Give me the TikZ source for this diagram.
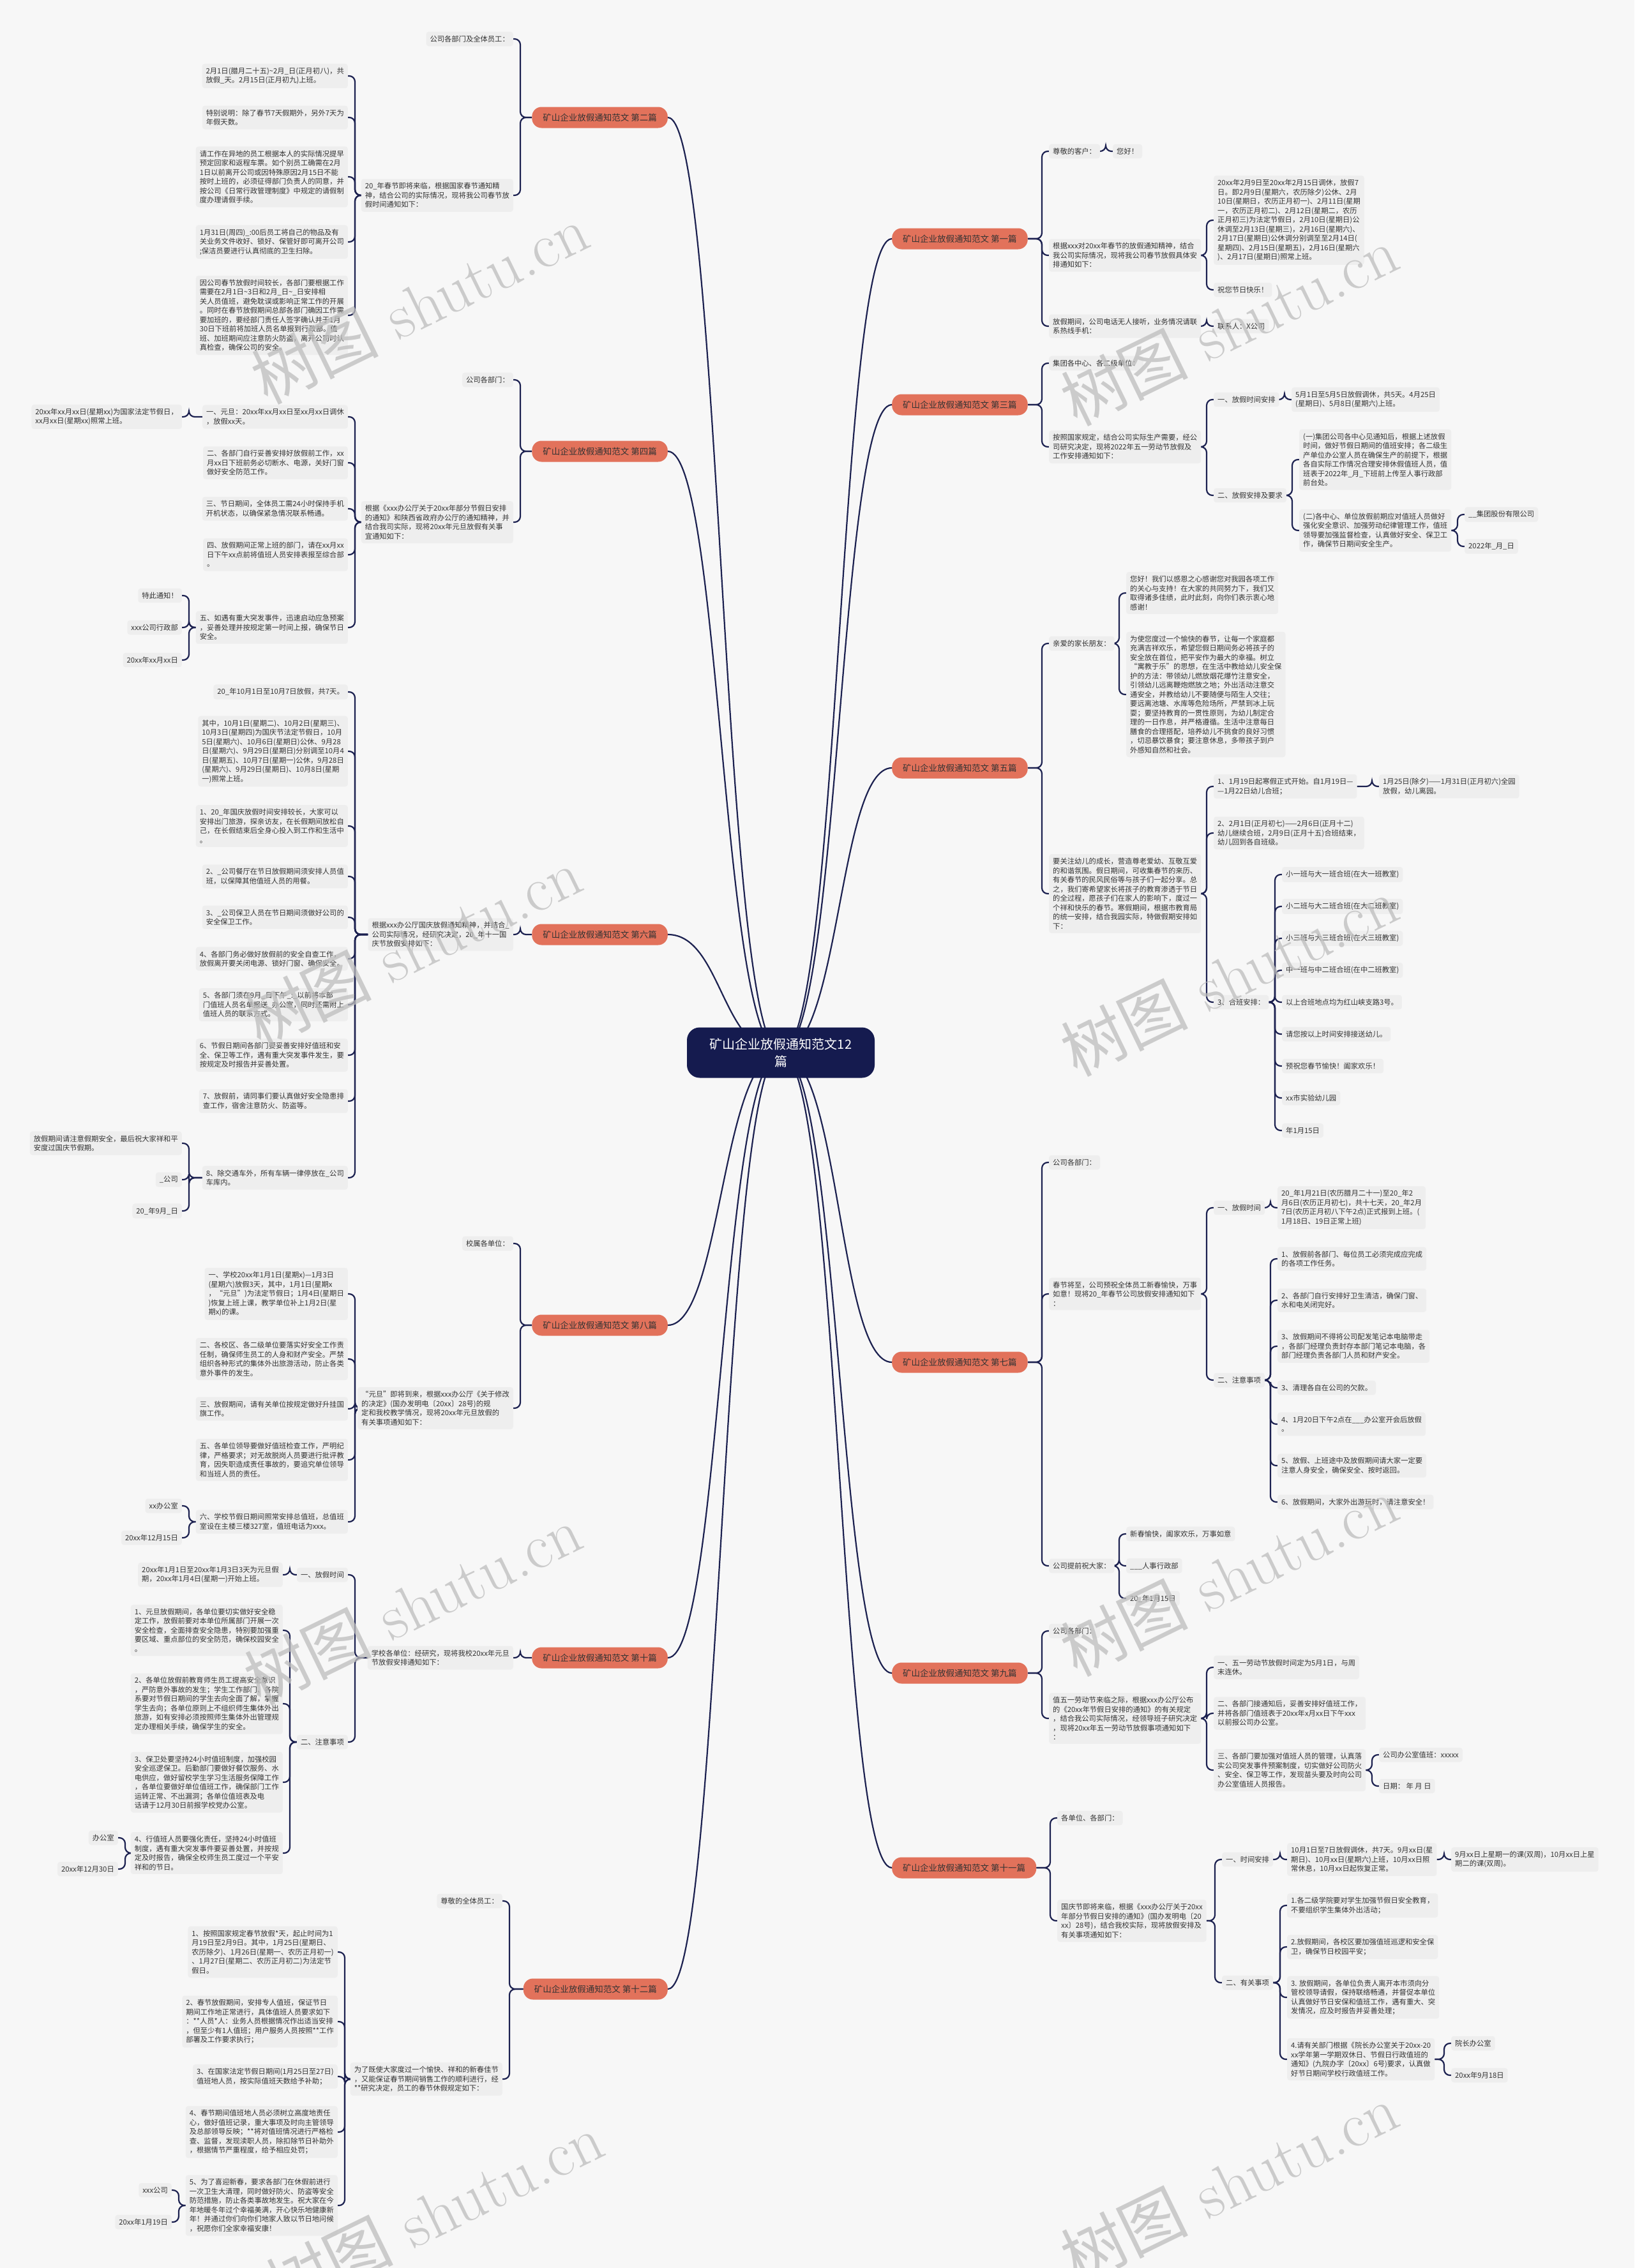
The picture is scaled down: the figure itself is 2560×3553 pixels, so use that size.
\documentclass[tikz,border=0pt]{standalone}
\usepackage{fontspec}
\newfontfamily\cjk{Noto Sans CJK SC}
\usetikzlibrary{calc}
\definecolor{bgc}{HTML}{F7F7F7}
\definecolor{boxc}{HTML}{EEEEEE}
\definecolor{brc}{HTML}{E2725B}
\definecolor{rootc}{HTML}{151B4F}
\definecolor{linec}{HTML}{1C2150}
\definecolor{txtc}{HTML}{333333}
\definecolor{wmc}{HTML}{BDBDBD}
\pgfdeclarelayer{back}\pgfdeclarelayer{lines}\pgfdeclarelayer{front}
\pgfsetlayers{back,lines,main,front}
\tikzset{
 tb/.style={fill=boxc, rounded corners=4pt, inner xsep=6pt, inner ysep=6pt, align=left, text=txtc, font=\cjk\fontsize{11.3pt}{14.5pt}\selectfont},
 bl/.style={tb, anchor=east},
 br/.style={tb, anchor=west},
 brn/.style={fill=brc, rounded corners=15pt, minimum height=33pt, inner xsep=17pt, text=txtc, font=\cjk\fontsize{13.5pt}{16pt}\selectfont},
 branchl/.style={brn, anchor=east},
 branchr/.style={brn, anchor=west},
 rootn/.style={fill=rootc, text=white, rounded corners=20pt, minimum width=294pt, minimum height=79pt, align=center, font=\cjk\fontsize{20pt}{27pt}\selectfont},
 ln/.style={draw=linec, line width=2.2pt, rounded corners=9pt},
 cv/.style={draw=linec, line width=2.2pt},
 wm/.style={text=wmc, opacity=0.75, rotate=26, font=\fontsize{100pt}{100pt}\selectfont}
}
\newcommand\cnL[2]{\draw[ln] (#1.west) -| ([xshift=11pt]#2.east) -- (#2.east);}
\newcommand\cnR[2]{\draw[ln] (#1.east) -| ([xshift=-11pt]#2.west) -- (#2.west);}
\newcommand\rcL[1]{\draw[cv] (root.center) .. controls (1130,1649) and ($(#1.east)+(84,0)$) .. (#1.east);}
\newcommand\rcR[1]{\draw[cv] (root.center) .. controls (1316,1649) and ($(#1.west)+(-84,0)$) .. (#1.west);}
\begin{document}
\begin{tikzpicture}[x=1pt,y=-1pt]
\begin{pgfonlayer}{back}
\fill[bgc] (0,0) rectangle (2560,3553);
\end{pgfonlayer}
\useasboundingbox (0,0) rectangle (2560,3553);

\node[rootn] (root) at (1223,1649) {矿山企业放假通知范文12\\篇};

% ---------------- LEFT: 第二篇
\node[branchl] (L2) at (1046,184) {矿山企业放假通知范文 第二篇};
\node[bl] (L2a) at (804,61) {公司各部门及全体员工：};
\node[bl] (L2b) at (804,306) {20\_年春节即将来临，根据国家春节通知精\\神，结合公司的实际情况，现将我公司春节放\\假时间通知如下：};
\node[bl] (L2b1) at (545,119) {2月1日(腊月二十五)\textasciitilde 2月\_日(正月初八)，共\\放假\_天。2月15日(正月初九)上班。};
\node[bl] (L2b2) at (545,184) {特别说明：除了春节7天假期外，另外7天为\\年假天数。};
\node[bl] (L2b3) at (545,277) {请工作在异地的员工根据本人的实际情况提早\\预定回家和返程车票。如个别员工确需在2月\\1日以前离开公司或因特殊原因2月15日不能\\按时上班的，必须征得部门负责人的同意，并\\按公司《日常行政管理制度》中规定的请假制\\度办理请假手续。};
\node[bl] (L2b4) at (545,379) {1月31日(周四)\_:00后员工将自己的物品及有\\关业务文件收好、锁好、保管好即可离开公司\\;保洁员要进行认真彻底的卫生扫除。};
\node[bl] (L2b5) at (545,494) {因公司春节放假时间较长，各部门要根据工作\\需要在2月1日\textasciitilde 3日和2月\_日\textasciitilde \_日安排相\\关人员值班，避免耽误或影响正常工作的开展\\。同时在春节放假期间总部各部门确因工作需\\要加班的，要经部门责任人签字确认并于1月\\30日下班前将加班人员名单报到行政部。值\\班、加班期间应注意防火防盗，离开公司时认\\真检查，确保公司的安全。};

% ---------------- LEFT: 第四篇
\node[branchl] (L4) at (1046,707) {矿山企业放假通知范文 第四篇};
\node[bl] (L4a) at (804,595) {公司各部门：};
\node[bl] (L4b) at (804,818) {根据《xxx办公厅关于20xx年部分节假日安排\\的通知》和陕西省政府办公厅的通知精神，并\\结合我司实际，现将20xx年元旦放假有关事\\宜通知如下：};
\node[bl] (L4b1) at (545,653) {一、元旦：20xx年xx月xx日至xx月xx日调休\\，放假xx天。};
\node[bl] (L4b1a) at (285,653) {20xx年xx月xx日(星期xx)为国家法定节假日，\\xx月xx日(星期xx)照常上班。};
\node[bl] (L4b2) at (545,725) {二、各部门自行妥善安排好放假前工作，xx\\月xx日下班前务必切断水、电源，关好门窗\\做好安全防范工作。};
\node[bl] (L4b3) at (545,797) {三、节日期间，全体员工需24小时保持手机\\开机状态，以确保紧急情况联系畅通。};
\node[bl] (L4b4) at (545,869) {四、放假期间正常上班的部门，请在xx月xx\\日下午xx点前将值班人员安排表报至综合部\\。};
\node[bl] (L4b5) at (545,983) {五、如遇有重大突发事件，迅速启动应急预案\\，妥善处理并按规定第一时间上报，确保节日\\安全。};
\node[bl] (L4c1) at (285,933) {特此通知！};
\node[bl] (L4c2) at (285,983) {xxx公司行政部};
\node[bl] (L4c3) at (285,1034) {20xx年xx月xx日};

% ---------------- LEFT: 第六篇
\node[branchl] (L6) at (1046,1464) {矿山企业放假通知范文 第六篇};
\node[bl] (L6a) at (804,1464) {根据xxx办公厅国庆放假通知精神，并结合\_\\公司实际情况，经研究决定，20\_年十一国\\庆节放假安排如下：};
\node[bl] (L6b1) at (545,1084) {20\_年10月1日至10月7日放假，共7天。};
\node[bl] (L6b2) at (545,1177) {其中，10月1日(星期二)、10月2日(星期三)、\\10月3日(星期四)为国庆节法定节假日，10月\\5日(星期六)、10月6日(星期日)公休、9月28\\日(星期六)、9月29日(星期日)分别调至10月4\\日(星期五)、10月7日(星期一)公休，9月28日\\(星期六)、9月29日(星期日)、10月8日(星期\\一)照常上班。};
\node[bl] (L6b3) at (545,1294) {1、20\_年国庆放假时间安排较长，大家可以\\安排出门旅游，探亲访友，在长假期间放松自\\己，在长假结束后全身心投入到工作和生活中\\。};
\node[bl] (L6b4) at (545,1373) {2、\_公司餐厅在节日放假期间须安排人员值\\班，以保障其他值班人员的用餐。};
\node[bl] (L6b5) at (545,1437) {3、\_公司保卫人员在节日期间须做好公司的\\安全保卫工作。};
\node[bl] (L6b6) at (545,1502) {4、各部门务必做好放假前的安全自查工作，\\放假离开要关闭电源、锁好门窗、确保安全。};
\node[bl] (L6b7) at (545,1574) {5、各部门须在9月\_日下午\_:\_以前将本部\\门值班人员名单报送\_办公室，同时还需附上\\值班人员的联系方式。};
\node[bl] (L6b8) at (545,1653) {6、节假日期间各部门要妥善安排好值班和安\\全、保卫等工作，遇有重大突发事件发生，要\\按规定及时报告并妥善处置。};
\node[bl] (L6b9) at (545,1725) {7、放假前，请同事们要认真做好安全隐患排\\查工作，宿舍注意防火、防盗等。};
\node[bl] (L6b10) at (545,1845) {8、除交通车外，所有车辆一律停放在\_公司\\车库内。};
\node[bl] (L6c1) at (285,1791) {放假期间请注意假期安全，最后祝大家祥和平\\安度过国庆节假期。};
\node[bl] (L6c2) at (285,1848) {\_公司};
\node[bl] (L6c3) at (285,1897) {20\_年9月\_日};

% ---------------- LEFT: 第八篇
\node[branchl] (L8) at (1046,2076) {矿山企业放假通知范文 第八篇};
\node[bl] (L8a) at (804,1948) {校属各单位：};
\node[bl] (L8b) at (804,2206) {“元旦”即将到来，根据xxx办公厅《关于修改\\的决定》(国办发明电〔20xx〕28号)的规\\定和我校教学情况，现将20xx年元旦放假的\\有关事项通知如下：};
\node[bl] (L8b1) at (545,2027) {一、学校20xx年1月1日(星期x)—1月3日\\(星期六)放假3天，其中，1月1日(星期x\\，“元旦”)为法定节假日；1月4日(星期日\\)恢复上班上课，教学单位补上1月2日(星\\期x)的课。};
\node[bl] (L8b2) at (545,2129) {二、各校区、各二级单位要落实好安全工作责\\任制，确保师生员工的人身和财产安全。严禁\\组织各种形式的集体外出旅游活动，防止各类\\意外事件的发生。};
\node[bl] (L8b3) at (545,2207) {三、放假期间，请有关单位按规定做好升挂国\\旗工作。};
\node[bl] (L8b4) at (545,2287) {五、各单位领导要做好值班检查工作，严明纪\\律，严格要求；对无故脱岗人员要进行批评教\\育，因失职造成责任事故的，要追究单位领导\\和当班人员的责任。};
\node[bl] (L8b5) at (545,2384) {六、学校节假日期间照常安排总值班，总值班\\室设在主楼三楼327室，值班电话为xxx。};
\node[bl] (L8c1) at (285,2359) {xx办公室};
\node[bl] (L8c2) at (285,2409) {20xx年12月15日};

% ---------------- LEFT: 第十篇
\node[branchl] (L10) at (1046,2597) {矿山企业放假通知范文 第十篇};
\node[bl] (L10a) at (804,2597) {学校各单位：经研究，现将我校20xx年元旦\\节放假安排通知如下：};
\node[bl] (L10b1) at (545,2467) {一、放假时间};
\node[bl] (L10b1a) at (443,2467) {20xx年1月1日至20xx年1月3日3天为元旦假\\期，20xx年1月4日(星期一)开始上班。};
\node[bl] (L10b2) at (545,2729) {二、注意事项};
\node[bl] (L10c1) at (443,2554) {1、元旦放假期间，各单位要切实做好安全稳\\定工作，放假前要对本单位所属部门开展一次\\安全检查，全面排查安全隐患，特别要加强重\\要区域、重点部位的安全防范，确保校园安全\\。};
\node[bl] (L10c2) at (443,2669) {2、各单位放假前教育师生员工提高安全意识\\，严防意外事故的发生；学生工作部门、各院\\系要对节假日期间的学生去向全面了解，掌握\\学生去向；各单位原则上不组织师生集体外出\\旅游，如有安排必须按照师生集体外出管理规\\定办理相关手续，确保学生的安全。};
\node[bl] (L10c3) at (443,2792) {3、保卫处要坚持24小时值班制度，加强校园\\安全巡逻保卫。后勤部门要做好餐饮服务、水\\电供应，做好留校学生学习生活服务保障工作\\，各单位要做好单位值班工作，确保部门工作\\运转正常、不出漏洞；各单位值班表及电\\话请于12月30日前报学校党办公室。};
\node[bl] (L10c4) at (443,2903) {4、行值班人员要强化责任，坚持24小时值班\\制度，遇有重大突发事件要妥善处置，并按规\\定及时报告，确保全校师生员工度过一个平安\\祥和的节日。};
\node[bl] (L10d1) at (185,2879) {办公室};
\node[bl] (L10d2) at (185,2928) {20xx年12月30日};

% ---------------- LEFT: 第十二篇
\node[branchl] (L12) at (1046,3116) {矿山企业放假通知范文 第十二篇};
\node[bl] (L12a) at (787,2978) {尊敬的全体员工：};
\node[bl] (L12b) at (787,3257) {为了既使大家度过一个愉快、祥和的新春佳节\\，又能保证春节期间销售工作的顺利进行，经\\**研究决定，员工的春节休假规定如下：};
\node[bl] (L12b1) at (529,3058) {1、按照国家规定春节放假*天，起止时间为1\\月19日至2月9日。其中，1月25日(星期日、\\农历除夕)、1月26日(星期一、农历正月初一)\\、1月27日(星期二、农历正月初二)为法定节\\假日。};
\node[bl] (L12b2) at (529,3167) {2、春节放假期间，安排专人值班，保证节日\\期间工作地正常进行，具体值班人员要求如下\\：**人员*人：业务人员根据情况作出适当安排\\，但至少有1人值班；用户服务人员按照**工作\\部署及工作要求执行；};
\node[bl] (L12b3) at (529,3253) {3、在国家法定节假日期间(1月25日至27日)\\值班地人员，按实际值班天数给予补助；};
\node[bl] (L12b4) at (529,3340) {4、春节期间值班地人员必须树立高度地责任\\心，做好值班记录，重大事项及时向主管领导\\及总部领导反映；**将对值班情况进行严格检\\查、监督，发现渎职人员，除扣除节日补助外\\，根据情节严重程度，给予相应处罚；};
\node[bl] (L12b5) at (529,3455) {5、为了喜迎新春，要求各部门在休假前进行\\一次卫生大清理，同时做好防火、防盗等安全\\防范措施，防止各类事故地发生。祝大家在今\\年地暖冬年过个幸福美满，开心快乐地健康新\\年！并通过你们向你们地家人致以节日地问候\\，祝愿你们全家幸福安康！};
\node[bl] (L12c1) at (269,3431) {xxx公司};
\node[bl] (L12c2) at (269,3481) {20xx年1月19日};

% ---------------- RIGHT: 第一篇
\node[branchr] (R1) at (1397,374) {矿山企业放假通知范文 第一篇};
\node[br] (R1a) at (1643,237) {尊敬的客户：};
\node[br] (R1a1) at (1743,237) {您好！};
\node[br] (R1b) at (1643,400) {根据xxx对20xx年春节的放假通知精神，结合\\我公司实际情况，现将我公司春节放假具体安\\排通知如下：};
\node[br] (R1b1) at (1901,345) {20xx年2月9日至20xx年2月15日调休，放假7\\日。即2月9日(星期六，农历除夕)公休、2月\\10日(星期日，农历正月初一)、2月11日(星期\\一，农历正月初二)、2月12日(星期二，农历\\正月初三)为法定节假日，2月10日(星期日)公\\休调至2月13日(星期三)，2月16日(星期六)、\\2月17日(星期日)公休调分别调至至2月14日(\\星期四)、2月15日(星期五)，2月16日(星期六\\)、2月17日(星期日)照常上班。};
\node[br] (R1b2) at (1901,454) {祝您节日快乐！};
\node[br] (R1c) at (1643,511) {放假期间，公司电话无人接听，业务情况请联\\系热线手机：};
\node[br] (R1c1) at (1901,511) {联系人：X公司};

% ---------------- RIGHT: 第三篇
\node[branchr] (R3) at (1397,634) {矿山企业放假通知范文 第三篇};
\node[br] (R3a) at (1643,569) {集团各中心、各二级单位：};
\node[br] (R3b) at (1643,700) {按照国家规定，结合公司实际生产需要，经公\\司研究决定，现将2022年五一劳动节放假及\\工作安排通知如下：};
\node[br] (R3b1) at (1901,626) {一、放假时间安排};
\node[br] (R3b1a) at (2023,626) {5月1日至5月5日放假调休，共5天。4月25日\\(星期日)、5月8日(星期六)上班。};
\node[br] (R3b2) at (1901,776) {二、放假安排及要求};
\node[br] (R3b2a) at (2035,720) {(一)集团公司各中心见通知后，根据上述放假\\时间，做好节假日期间的值班安排；各二级生\\产单位办公室人员在确保生产的前提下，根据\\各自实际工作情况合理安排休假值班人员，值\\班表于2022年\_月\_下班前上传至人事行政部\\前台处。};
\node[br] (R3b2b) at (2035,831) {(二)各中心、单位放假前期应对值班人员做好\\强化安全意识、加强劳动纪律管理工作，值班\\领导要加强监督检查，认真做好安全、保卫工\\作，确保节日期间安全生产。};
\node[br] (R3c1) at (2294,806) {\_\_集团股份有限公司};
\node[br] (R3c2) at (2294,856) {2022年\_月\_日};

% ---------------- RIGHT: 第五篇
\node[branchr] (R5) at (1397,1203) {矿山企业放假通知范文 第五篇};
\node[br] (R5a) at (1643,1008) {亲爱的家长朋友：};
\node[br] (R5a1) at (1764,929) {您好！我们以感恩之心感谢您对我园各项工作\\的关心与支持！在大家的共同努力下，我们又\\取得诸多佳绩，此时此刻，向你们表示衷心地\\感谢！};
\node[br] (R5a2) at (1764,1088) {为使您度过一个愉快的春节，让每一个家庭都\\充满吉祥欢乐，希望您假日期间务必将孩子的\\安全放在首位，把平安作为最大的幸福。树立\\“寓教于乐”的思想，在生活中教给幼儿安全保\\护的方法：带领幼儿燃放烟花爆竹注意安全，\\引领幼儿远离鞭炮燃放之地；外出活动注意交\\通安全，并教给幼儿不要随便与陌生人交往；\\要远离池塘、水库等危险场所，严禁到冰上玩\\耍；要坚持教育的一贯性原则，为幼儿制定合\\理的一日作息，并严格遵循。生活中注意每日\\膳食的合理搭配，培养幼儿不挑食的良好习惯\\，切忌暴饮暴食；要注意休息，多带孩子到户\\外感知自然和社会。};
\node[br] (R5b) at (1643,1400) {要关注幼儿的成长，营造尊老爱幼、互敬互爱\\的和谐氛围。假日期间，可收集春节的来历、\\有关春节的民风民俗等与孩子们一起分享。总\\之，我们寄希望家长将孩子的教育渗透于节日\\的全过程，愿孩子们在家人的影响下，度过一\\个祥和快乐的春节。寒假期间，根据市教育局\\的统一安排，结合我园实际，特做假期安排如\\下：};
\node[br] (R5b1) at (1901,1232) {1、1月19日起寒假正式开始。自1月19日—\\—1月22日幼儿合班；};
\node[br] (R5b1a) at (2160,1232) {1月25日(除夕)——1月31日(正月初六)全园\\放假，幼儿离园。};
\node[br] (R5b2) at (1901,1305) {2、2月1日(正月初七)——2月6日(正月十二)\\幼儿继续合班，2月9日(正月十五)合班结束，\\幼儿回到各自班级。};
\node[br] (R5b3) at (1901,1570) {3、合班安排：};
\node[br] (R5c1) at (2008,1370) {小一班与大一班合班(在大一班教室)};
\node[br] (R5c2) at (2008,1420) {小二班与大二班合班(在大二班教室)};
\node[br] (R5c3) at (2008,1470) {小三班与大三班合班(在大三班教室)};
\node[br] (R5c4) at (2008,1520) {中一班与中二班合班(在中二班教室)};
\node[br] (R5c5) at (2008,1570) {以上合班地点均为红山峡支路3号。};
\node[br] (R5c6) at (2008,1620) {请您按以上时间安排接送幼儿。};
\node[br] (R5c7) at (2008,1670) {预祝您春节愉快！阖家欢乐！};
\node[br] (R5c8) at (2008,1720) {xx市实验幼儿园};
\node[br] (R5c9) at (2008,1771) {年1月15日};

% ---------------- RIGHT: 第七篇
\node[branchr] (R7) at (1397,2134) {矿山企业放假通知范文 第七篇};
\node[br] (R7a) at (1643,1821) {公司各部门：};
\node[br] (R7b) at (1643,2027) {春节将至，公司预祝全体员工新春愉快，万事\\如意！现将20\_年春节公司放假安排通知如下\\：};
\node[br] (R7b1) at (1901,1892) {一、放假时间};
\node[br] (R7b1a) at (2001,1892) {20\_年1月21日(农历腊月二十一)至20\_年2\\月6日(农历正月初七)，共十七天，20\_年2月\\7日(农历正月初八下午2点)正式报到上班。(\\1月18日、19日正常上班)};
\node[br] (R7b2) at (1901,2162) {二、注意事项};
\node[br] (R7c1) at (2001,1972) {1、放假前各部门、每位员工必须完成应完成\\的各项工作任务。};
\node[br] (R7c2) at (2001,2037) {2、各部门自行安排好卫生清洁，确保门窗、\\水和电关闭完好。};
\node[br] (R7c3) at (2001,2109) {3、放假期间不得将公司配发笔记本电脑带走\\，各部门经理负责封存本部门笔记本电脑，各\\部门经理负责各部门人员和财产安全。};
\node[br] (R7c4) at (2001,2174) {3、清理各自在公司的欠款。};
\node[br] (R7c5) at (2001,2231) {4、1月20日下午2点在\_\_\_办公室开会后放假\\。};
\node[br] (R7c6) at (2001,2296) {5、放假、上班途中及放假期间请大家一定要\\注意人身安全，确保安全、按时返回。};
\node[br] (R7c7) at (2001,2353) {6、放假期间，大家外出游玩时，请注意安全！};
\node[br] (R7d) at (1643,2453) {公司提前祝大家：};
\node[br] (R7d1) at (1764,2403) {新春愉快，阖家欢乐，万事如意};
\node[br] (R7d2) at (1764,2453) {\_\_\_人事行政部};
\node[br] (R7d3) at (1764,2504) {20\_年1月15日};

% ---------------- RIGHT: 第九篇
\node[branchr] (R9) at (1397,2621) {矿山企业放假通知范文 第九篇};
\node[br] (R9a) at (1643,2555) {公司各部门：};
\node[br] (R9b) at (1643,2692) {值五一劳动节来临之际，根据xxx办公厅公布\\的《20xx年节假日安排的通知》的有关规定\\，结合我公司实际情况，经领导班子研究决定\\，现将20xx年五一劳动节放假事项通知如下\\：};
\node[br] (R9b1) at (1901,2612) {一、五一劳动节放假时间定为5月1日，与周\\末连休。};
\node[br] (R9b2) at (1901,2684) {二、各部门接通知后，妥善安排好值班工作，\\并将各部门值班表于20xx年x月xx日下午xxx\\以前报公司办公室。};
\node[br] (R9b3) at (1901,2773) {三、各部门要加强对值班人员的管理，认真落\\实公司突发事件预案制度，切实做好公司防火\\、安全、保卫等工作，发现苗头要及时向公司\\办公室值班人员报告。};
\node[br] (R9c1) at (2160,2749) {公司办公室值班：xxxxx};
\node[br] (R9c2) at (2160,2798) {日期：\ 年\ 月\ 日};

% ---------------- RIGHT: 第十一篇
\node[branchr] (R11) at (1397,2926) {矿山企业放假通知范文 第十一篇};
\node[br] (R11a) at (1656,2848) {各单位、各部门：};
\node[br] (R11b) at (1656,3009) {国庆节即将来临，根据《xxx办公厅关于20xx\\年部分节假日安排的通知》(国办发明电〔20\\xx〕28号)，结合我校实际，现将放假安排及\\有关事项通知如下：};
\node[br] (R11b1) at (1914,2913) {一、时间安排};
\node[br] (R11b1a) at (2016,2913) {10月1日至7日放假调休，共7天。9月xx日(星\\期日)、10月xx日(星期六)上班，10月xx日照\\常休息，10月xx日起恢复正常。};
\node[br] (R11b1b) at (2273,2913) {9月xx日上星期一的课(双周)，10月xx日上星\\期二的课(双周)。};
\node[br] (R11b2) at (1914,3106) {二、有关事项};
\node[br] (R11c1) at (2016,2985) {1.各二级学院要对学生加强节假日安全教育，\\不要组织学生集体外出活动；};
\node[br] (R11c2) at (2016,3050) {2.放假期间，各校区要加强值班巡逻和安全保\\卫，确保节日校园平安；};
\node[br] (R11c3) at (2016,3129) {3. 放假期间，各单位负责人离开本市须向分\\管校领导请假，保持联络畅通，并督促本单位\\认真做好节日安保和值班工作，遇有重大、突\\发情况，应及时报告并妥善处理；};
\node[br] (R11c4) at (2016,3226) {4.请有关部门根据《院长办公室关于20xx-20\\xx学年第一学期双休日、节假日行政值班的\\通知》(九院办字〔20xx〕6号)要求，认真做\\好节日期间学校行政值班工作。};
\node[br] (R11d1) at (2273,3201) {院长办公室};
\node[br] (R11d2) at (2273,3251) {20xx年9月18日};

% ================= CONNECTORS
\begin{pgfonlayer}{lines}
\rcL{L2}\rcL{L4}\rcL{L6}\rcL{L8}\rcL{L10}\rcL{L12}
\rcR{R1}\rcR{R3}\rcR{R5}\rcR{R7}\rcR{R9}\rcR{R11}
% left
\cnL{L2}{L2a}\cnL{L2}{L2b}
\cnL{L2b}{L2b1}\cnL{L2b}{L2b2}\cnL{L2b}{L2b3}\cnL{L2b}{L2b4}\cnL{L2b}{L2b5}
\cnL{L4}{L4a}\cnL{L4}{L4b}
\cnL{L4b}{L4b1}\cnL{L4b}{L4b2}\cnL{L4b}{L4b3}\cnL{L4b}{L4b4}\cnL{L4b}{L4b5}
\cnL{L4b1}{L4b1a}
\cnL{L4b5}{L4c1}\cnL{L4b5}{L4c2}\cnL{L4b5}{L4c3}
\cnL{L6}{L6a}
\cnL{L6a}{L6b1}\cnL{L6a}{L6b2}\cnL{L6a}{L6b3}\cnL{L6a}{L6b4}\cnL{L6a}{L6b5}
\cnL{L6a}{L6b6}\cnL{L6a}{L6b7}\cnL{L6a}{L6b8}\cnL{L6a}{L6b9}\cnL{L6a}{L6b10}
\cnL{L6b10}{L6c1}\cnL{L6b10}{L6c2}\cnL{L6b10}{L6c3}
\cnL{L8}{L8a}\cnL{L8}{L8b}
\cnL{L8b}{L8b1}\cnL{L8b}{L8b2}\cnL{L8b}{L8b3}\cnL{L8b}{L8b4}\cnL{L8b}{L8b5}
\cnL{L8b5}{L8c1}\cnL{L8b5}{L8c2}
\cnL{L10}{L10a}
\cnL{L10a}{L10b1}\cnL{L10a}{L10b2}
\cnL{L10b1}{L10b1a}
\cnL{L10b2}{L10c1}\cnL{L10b2}{L10c2}\cnL{L10b2}{L10c3}\cnL{L10b2}{L10c4}
\cnL{L10c4}{L10d1}\cnL{L10c4}{L10d2}
\cnL{L12}{L12a}\cnL{L12}{L12b}
\cnL{L12b}{L12b1}\cnL{L12b}{L12b2}\cnL{L12b}{L12b3}\cnL{L12b}{L12b4}\cnL{L12b}{L12b5}
\cnL{L12b5}{L12c1}\cnL{L12b5}{L12c2}
% right
\cnR{R1}{R1a}\cnR{R1}{R1b}\cnR{R1}{R1c}
\cnR{R1a}{R1a1}
\cnR{R1b}{R1b1}\cnR{R1b}{R1b2}
\cnR{R1c}{R1c1}
\cnR{R3}{R3a}\cnR{R3}{R3b}
\cnR{R3b}{R3b1}\cnR{R3b}{R3b2}
\cnR{R3b1}{R3b1a}
\cnR{R3b2}{R3b2a}\cnR{R3b2}{R3b2b}
\cnR{R3b2b}{R3c1}\cnR{R3b2b}{R3c2}
\cnR{R5}{R5a}\cnR{R5}{R5b}
\cnR{R5a}{R5a1}\cnR{R5a}{R5a2}
\cnR{R5b}{R5b1}\cnR{R5b}{R5b2}\cnR{R5b}{R5b3}
\cnR{R5b1}{R5b1a}
\cnR{R5b3}{R5c1}\cnR{R5b3}{R5c2}\cnR{R5b3}{R5c3}\cnR{R5b3}{R5c4}\cnR{R5b3}{R5c5}
\cnR{R5b3}{R5c6}\cnR{R5b3}{R5c7}\cnR{R5b3}{R5c8}\cnR{R5b3}{R5c9}
\cnR{R7}{R7a}\cnR{R7}{R7b}\cnR{R7}{R7d}
\cnR{R7b}{R7b1}\cnR{R7b}{R7b2}
\cnR{R7b1}{R7b1a}
\cnR{R7b2}{R7c1}\cnR{R7b2}{R7c2}\cnR{R7b2}{R7c3}\cnR{R7b2}{R7c4}\cnR{R7b2}{R7c5}\cnR{R7b2}{R7c6}\cnR{R7b2}{R7c7}
\cnR{R7d}{R7d1}\cnR{R7d}{R7d2}\cnR{R7d}{R7d3}
\cnR{R9}{R9a}\cnR{R9}{R9b}
\cnR{R9b}{R9b1}\cnR{R9b}{R9b2}\cnR{R9b}{R9b3}
\cnR{R9b3}{R9c1}\cnR{R9b3}{R9c2}
\cnR{R11}{R11a}\cnR{R11}{R11b}
\cnR{R11b}{R11b1}\cnR{R11b}{R11b2}
\cnR{R11b1}{R11b1a}\cnR{R11b1a}{R11b1b}
\cnR{R11b2}{R11c1}\cnR{R11b2}{R11c2}\cnR{R11b2}{R11c3}\cnR{R11b2}{R11c4}
\cnR{R11c4}{R11d1}\cnR{R11c4}{R11d2}
\end{pgfonlayer}

% ================= WATERMARK
\begin{pgfonlayer}{front}
\node[wm] (w1) at (657,476) {{\cjk 树图} shutu.cn};
\node[wm] (w2) at (1925,510) {{\cjk 树图} shutu.cn};
\node[wm] (w3) at (646,1484) {{\cjk 树图} shutu.cn};
\node[wm] (w4) at (1925,1529) {{\cjk 树图} shutu.cn};
\node[wm] (w5) at (646,2514) {{\cjk 树图} shutu.cn};
\node[wm] (w6) at (1925,2469) {{\cjk 树图} shutu.cn};
\node[wm] (w7) at (680,3466) {{\cjk 树图} shutu.cn};
\node[wm] (w8) at (1925,3420) {{\cjk 树图} shutu.cn};
\end{pgfonlayer}
\end{tikzpicture}
\end{document}
